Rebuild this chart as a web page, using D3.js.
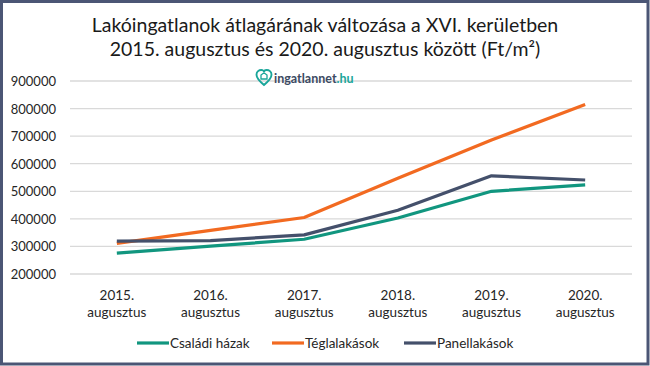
<!DOCTYPE html>
<html><head><meta charset="utf-8">
<script src="https://cdn.jsdelivr.net/npm/d3@7"></script>
<style>
html,body{margin:0;padding:0;background:#fff;}
svg{display:block;font-family:Lato, "Open Sans", sans-serif;}
</style></head>
<body>
<svg id="c" width="650" height="366"></svg>
<script>
const titleLines = ["Lakóingatlanok átlagárának változása a XVI. kerületben", "2015. augusztus és 2020. augusztus között (Ft/m²)"];
const years = ["2015.", "2016.", "2017.", "2018.", "2019.", "2020."];
const months = ["augusztus", "augusztus", "augusztus", "augusztus", "augusztus", "augusztus"];
const yTicks = [200000, 300000, 400000, 500000, 600000, 700000, 800000, 900000];
const seriesNames = ["Családi házak", "Téglalakások", "Panellakások"];
const csaladi = [276000, 301000, 326000, 403000, 500000, 523000];
const tegla = [311000, 358000, 405000, 547000, 686000, 815000];
const panel = [319000, 321000, 342000, 431000, 556000, 541000];
const seriesColors = ["#11967f", "#f26a21", "#44506b"];

const svg = d3.select("#c");
const W = 650, H = 366;
svg.append("rect").attr("x",1.5).attr("y",1.5).attr("width",W-3.5).attr("height",H-3.5)
  .attr("fill","#fff").attr("stroke","#4b5675").attr("stroke-width",3);

const x = d3.scaleBand().domain(d3.range(years.length)).range([70, 632]);
const y = d3.scaleLinear().domain([200000, 900000]).range([274, 81]);

// gridlines
svg.append("g").selectAll("line").data(yTicks).join("line")
  .attr("x1",70).attr("x2",632).attr("y1",d=>y(d)).attr("y2",d=>y(d))
  .attr("stroke","#d9d9d9").attr("stroke-width",1.3);

// y axis labels
const yAxis = d3.axisLeft(y).tickValues(yTicks).tickSize(0).tickPadding(0).tickFormat(d3.format("d"));
const gy = svg.append("g").attr("transform","translate(56,0)").call(yAxis);
gy.select(".domain").remove();
gy.selectAll("text").attr("font-size",13).attr("fill","#262626").attr("font-family","Lato, sans-serif").attr("dy","0.35em");

// x labels
const xAxis = d3.axisBottom(x).tickSize(0).tickFormat(()=>"");
const gx = svg.append("g").attr("transform","translate(0,274)").call(xAxis);
gx.select(".domain").remove();
gx.selectAll(".tick").each(function(d,i){
  const t = d3.select(this).select("text").text(null).attr("y",0).attr("dy",null)
    .attr("font-size",13.5).attr("fill","#262626").attr("font-family","Lato, sans-serif");
  t.append("tspan").attr("x",0).attr("y",26).text(years[i]);
  t.append("tspan").attr("x",0).attr("y",43).text(months[i]);
});

// lines
const data = [csaladi, tegla, panel];
const line = d3.line().x((d,i)=>x(i)+x.bandwidth()/2).y(d=>y(d));
data.forEach((s,k)=>{
  svg.append("path").datum(s).attr("d",line).attr("fill","none")
    .attr("stroke",seriesColors[k]).attr("stroke-width",3.2).attr("stroke-linejoin","round");
});

// title
svg.append("g").selectAll("text").data(titleLines).join("text")
  .attr("x",325).attr("y",(d,i)=>32+i*23.5).attr("text-anchor","middle")
  .attr("font-size",19.5).attr("fill","#1a1a1a").text(d=>d);

// logo
const logo = svg.append("g").attr("transform","translate(264,78.5)");
logo.append("path")
  .attr("d","M0,6.5 C-3.5,3.5 -7.5,0 -7.5,-3.8 C-7.5,-7 -5,-8.5 -2.7,-8.5 C-1.1,-8.5 0,-7.5 0,-6.4 C0,-7.5 1.1,-8.5 2.7,-8.5 C5,-8.5 7.5,-7 7.5,-3.8 C7.5,0 3.5,3.5 0,6.5 Z")
  .attr("fill","none").attr("stroke","#1aa69a").attr("stroke-width",1.9);
logo.append("path").attr("d","M-3,0.5 L-3,-3.5 L0,-5.8 L3,-3.5 L3,0.5 Z")
  .attr("fill","none").attr("stroke","#1aa69a").attr("stroke-width",1.3);
const lt = svg.append("text").attr("x",274).attr("y",82.5).attr("font-size",12.5).attr("font-weight","bold")
  .attr("font-family","Lato, sans-serif");
lt.append("tspan").attr("fill","#3c4a63").text("ingatlannet");
lt.append("tspan").attr("fill","#1aa69a").text(".hu");

// legend
const legX = [137, 272, 404];
const lg = svg.append("g").selectAll("g").data(seriesNames).join("g")
  .attr("transform",(d,i)=>`translate(${legX[i]},343)`);
lg.append("line").attr("x1",0).attr("x2",32).attr("stroke",(d,i)=>seriesColors[i]).attr("stroke-width",3.2);
lg.append("text").attr("x",33).attr("dy","0.35em").attr("font-size",13.5).attr("fill","#262626")
  .attr("font-family","Lato, sans-serif").text(d=>d);
</script>
</body></html>
